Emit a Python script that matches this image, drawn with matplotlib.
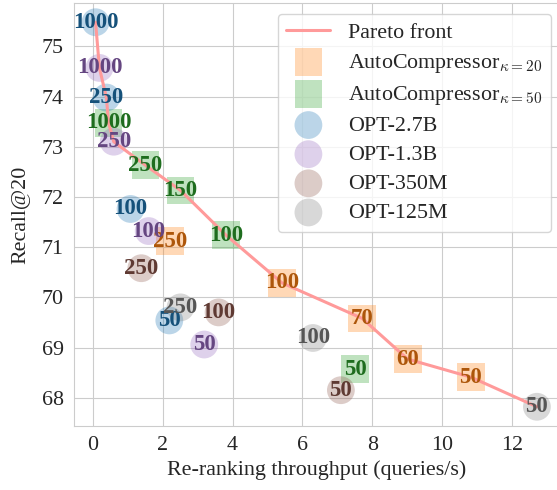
import numpy as np
import matplotlib
matplotlib.use("Agg")
import matplotlib.pyplot as plt
import matplotlib.colors as mcolors
import seaborn as sns

sns.set_style("whitegrid")
plt.rcParams["font.family"] = ["Liberation Serif", "DejaVu Serif"]
plt.rcParams["mathtext.fontset"] = "cm"

# (throughput, recall@20) per model, label = number of tokens / context
ac20_x = [2.20, 5.41, 7.71, 9.01, 10.82]
ac20_y = [71.12, 70.29, 69.58, 68.77, 68.41]
ac20_lab = ["250", "100", "70", "60", "50"]

ac50_x = [0.45, 1.51, 2.51, 3.81, 7.51]
ac50_y = [73.48, 72.63, 72.13, 71.24, 68.57]
ac50_lab = ["1000", "250", "150", "100", "50"]

opt27_x = [0.08, 0.39, 1.08, 2.19]
opt27_y = [75.48, 73.98, 71.76, 69.54]
opt27_lab = ["1000", "250", "100", "50"]

opt13_x = [0.19, 0.60, 1.60, 3.19]
opt13_y = [74.57, 73.10, 71.32, 69.06]
opt13_lab = ["1000", "250", "100", "50"]

opt350_x = [1.39, 3.60, 7.10]
opt350_y = [70.58, 69.70, 68.15]
opt350_lab = ["250", "100", "50"]

opt125_x = [2.51, 6.30, 12.71]
opt125_y = [69.80, 69.19, 67.82]
opt125_lab = ["250", "100", "50"]

series = [
    (r"AutoCompressor$_{\kappa=20}$", ac20_x, ac20_y, ac20_lab, "tab:orange", "s"),
    (r"AutoCompressor$_{\kappa=50}$", ac50_x, ac50_y, ac50_lab, "tab:green", "s"),
    ("OPT-2.7B", opt27_x, opt27_y, opt27_lab, "tab:blue", "o"),
    ("OPT-1.3B", opt13_x, opt13_y, opt13_lab, "tab:purple", "o"),
    ("OPT-350M", opt350_x, opt350_y, opt350_lab, "tab:brown", "o"),
    ("OPT-125M", opt125_x, opt125_y, opt125_lab, "tab:gray", "o"),
]

# pareto front over all points
all_x = np.concatenate([s[1] for s in series])
all_y = np.concatenate([s[2] for s in series])
order = np.argsort(-all_y)
front = []
best_x = -np.inf
for i in order:
    if all_x[i] > best_x:
        front.append(i)
        best_x = all_x[i]
front_x = all_x[front]
front_y = all_y[front]

fs = 15.8

fig = plt.figure(figsize=(5.57, 4.90), dpi=100)
ax = fig.add_axes([73.5 / 557, 1 - 426 / 490, (559 - 73.5) / 557, (426 - 3) / 490])

ax.plot(front_x, front_y, color="#ff9a9a", lw=2.2, zorder=3, label="Pareto front")

for name, xs, ys, labs, col, mk in series:
    ax.scatter(xs, ys, s=400, marker=mk, color=col, alpha=0.3, edgecolors="none",
               zorder=2, label=name)
    dark = np.array(mcolors.to_rgb(col)) * 0.68
    for x, y, t in zip(xs, ys, labs):
        ax.text(x, y, t, ha="center", va="center", fontsize=16.5, fontweight="bold",
                color=dark, zorder=4)

ax.set_xlabel("Re-ranking throughput (queries/s)", fontsize=fs)
ax.set_ylabel("Recall@20", fontsize=fs, labelpad=8)
ax.tick_params(labelsize=fs)
ax.set_xticks([0, 2, 4, 6, 8, 10, 12])
ax.set_yticks([68, 69, 70, 71, 72, 73, 74, 75])

leg = ax.legend(loc="upper right", fontsize=fs, bbox_to_anchor=(1.006, 1.0),
                borderpad=0.4, labelspacing=0.4, handletextpad=0.8)

fig.savefig("out.png", dpi=100)
